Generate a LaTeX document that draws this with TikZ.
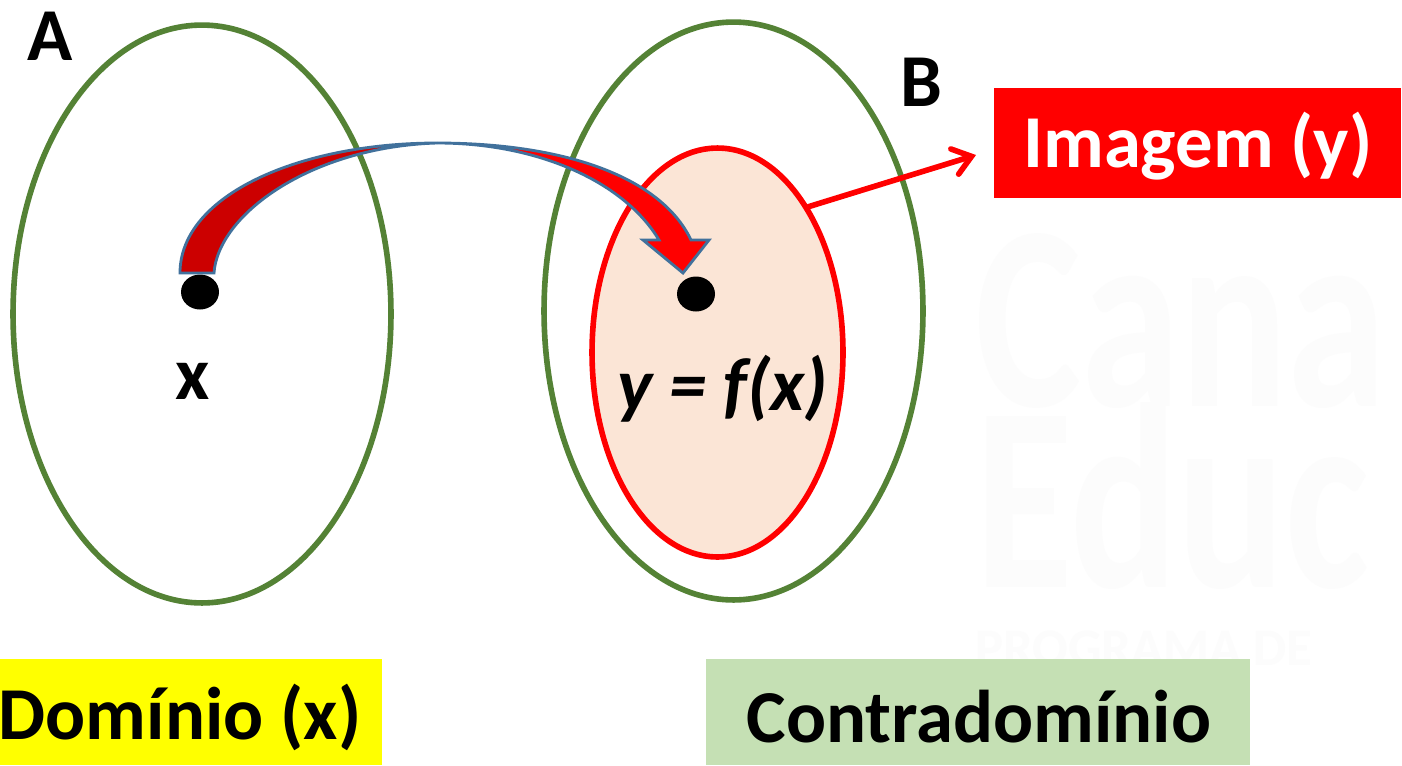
\documentclass[tikz,border=0pt]{standalone}
\usepackage{fontspec}
\setmainfont{Carlito}
\usetikzlibrary{arrows.meta, shapes.geometric}
\definecolor{mGreen}{HTML}{548235}
\definecolor{mPeach}{HTML}{FBE5D6}
\definecolor{mBlue}{HTML}{41719C}
\definecolor{mDark}{HTML}{CC0000}
\definecolor{mLeaf}{HTML}{C5E0B4}
\definecolor{mYellow}{HTML}{FFFF00}
\definecolor{mRed}{HTML}{FF0000}
\definecolor{mFaint}{HTML}{FCFCFC}
\begin{document}
\begin{tikzpicture}[x=0.02cm, y=-0.02cm,
  conj/.style={draw=mGreen, line width=3.2pt, ellipse, inner sep=0pt},
  dot/.style={ellipse, fill=black, minimum width=0.76cm, minimum height=0.70cm, inner sep=0pt},
  rotulo/.style={font=\fontsize{42.5}{46}\selectfont\bfseries},
  caixa/.style={minimum height=2.12cm, inner sep=0pt},
  marca/.style={mFaint, anchor=base west, xscale=0.76, inner sep=0pt, font=\fontsize{150}{150}\selectfont\bfseries},
  seta/.style={draw=mBlue, line width=1.6pt, line join=miter},
]
  \useasboundingbox (0,0) rectangle (1402,765);
  \fill[white] (0,0) rectangle (1402,765);
  \node[marca] (marcaA) at (975,406) {Cana};
  \node[marca] (marcaB) at (975,587) {Educ};
  \node[mFaint, anchor=base west, inner sep=0pt, font=\fontsize{30}{30}\selectfont\bfseries] (marcaC) at (975,665) {PROGRAMA DE};
  \node[conj, minimum width=7.56cm, minimum height=11.56cm] (setA) at (202,314) {};
  \node[conj, minimum width=7.58cm, minimum height=11.56cm] (setB) at (733.5,311) {};
  \node[conj, draw=mRed, fill=mPeach, minimum width=5.02cm, minimum height=8.18cm] (imgSet) at (717.5,352.5) {};
  \node[dot] (dotX) at (200,292) {};
  \node[dot] (dotY) at (696,294) {};
  \node[rotulo] (labA) at (50,36) {A};
  \node[rotulo] (labB) at (921,82) {B};
  \node[rotulo] (labX) at (193,381) {x};
  \node[rotulo, font=\fontsize{42.5}{46}\selectfont\bfseries\itshape] (labF) at (723,389) {y = f(x)};
  \node[caixa, fill=mYellow, minimum width=7.64cm] (dom) at (191,712) {};
  \node[caixa, fill=mLeaf, minimum width=10.88cm] (contra) at (978,712) {};
  \node[caixa, fill=mRed, minimum width=8.14cm, minimum height=2.2cm] (imagem) at (1197.5,143) {};
  \node[rotulo] (domTxt) at (180,717) {Domínio (x)};
  \node[rotulo] (contraTxt) at (979,717) {Contradomínio};
  \node[rotulo, text=white] (imagemTxt) at (1198,146) {Imagem (y)};
  % seta curva
  \path[seta, fill=mDark] (180,273) .. controls (180,195) and (300,143) .. (437,143)
    .. controls (310,147) and (218,215) .. (214,273) -- cycle;
  \path[seta, fill=mRed] (437,143) .. controls (560,143) and (660,175) .. (691,240)
    -- (709,240) -- (683,273) -- (643,240) -- (659,240)
    .. controls (625,183) and (540,143) .. (437,143) -- cycle;
  \coordinate (fimSeta) at (976,155);
  \draw[mRed, line width=3.2pt, line cap=round, -{Straight Barb[length=10pt, width=15pt, line cap=round]}] (imgSet.58.7) -- (fimSeta);
\end{tikzpicture}
\end{document}
